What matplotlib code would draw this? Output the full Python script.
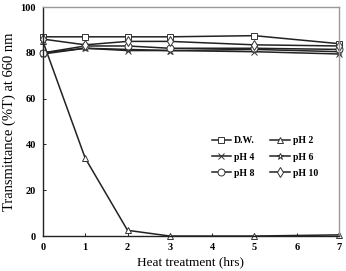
import matplotlib
matplotlib.use("Agg")
import matplotlib.pyplot as plt

hours = [0, 1, 2, 3, 5, 7]
dw = [87, 87, 87, 87, 87.5, 84]
ph2 = [85, 34, 2.5, 0, 0, 0.5]
ph4 = [80, 82, 81, 81, 80.5, 79.5]
ph6 = [79.5, 82, 81.5, 81, 81.5, 80.5]
ph8 = [80, 83, 83, 82, 82, 81.5]
ph10 = [86, 83.5, 85, 85, 83.5, 83]

labels = ["D.W.", "pH 2", "pH 4", "pH 6", "pH 8", "pH 10"]
series = [dw, ph2, ph4, ph6, ph8, ph10]
markers = ["s", "^", "x", "*", "o", "d"]

plt.rcParams['font.family'] = ['Liberation Serif', 'DejaVu Serif']

fig = plt.figure(figsize=(3.46, 2.71), dpi=100)
ax = fig.add_axes([0.124, 0.129, 0.856, 0.845])

lines = []
for ys, lab, m in zip(series, labels, markers):
    ln, = ax.plot(hours, ys, color='#222222', lw=1.1, marker=m, ms=5,
                  mfc='white' if m != 'x' else 'none', mec='#333333',
                  mew=0.7, label=lab, clip_on=False)
    lines.append(ln)

ax.set_xlim(0, 7)
ax.set_ylim(0, 100)
ax.set_xticks(range(0, 8))
ax.set_yticks(range(0, 101, 20))
ax.tick_params(labelsize=7.5, length=2, width=0.6, direction='in', pad=5)
for lbl in ax.get_xticklabels() + ax.get_yticklabels():
    lbl.set_fontweight('bold')

for s in ['left', 'bottom']:
    ax.spines[s].set_color('#222222')
    ax.spines[s].set_linewidth(1.0)
for s in ['top', 'right']:
    ax.spines[s].set_color('#999999')
    ax.spines[s].set_linewidth(1.0)

ax.set_xlabel("Heat treatment (hrs)", fontsize=9.5, labelpad=3)
ax.set_ylabel("Transmittance (%T) at 660 nm", fontsize=10.5, labelpad=3)

order = [0, 2, 4, 1, 3, 5]
ax.legend(handles=[lines[i] for i in order], ncol=2, loc='center left',
          bbox_to_anchor=(0.54, 0.345),
          frameon=False, handlelength=2.0, columnspacing=1.6,
          labelspacing=0.75, handletextpad=0.3,
          prop={'weight': 'bold', 'size': 7})

fig.savefig("out.png", dpi=100)
